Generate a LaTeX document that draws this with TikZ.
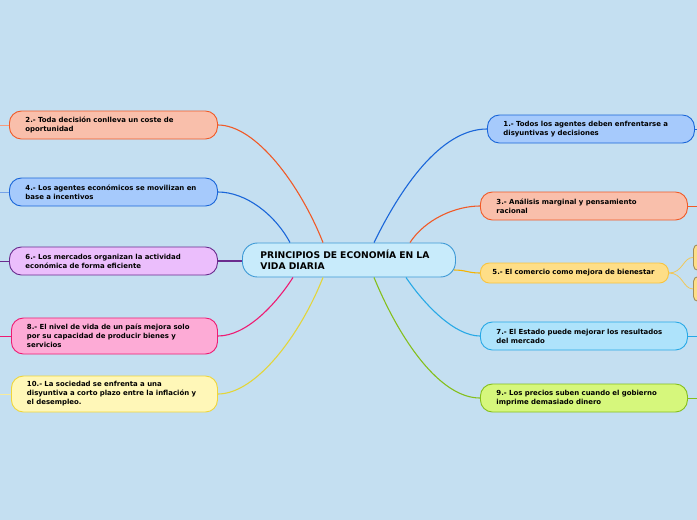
\documentclass[tikz,border=0pt]{standalone}
\usepackage{fontspec}
\setmainfont{DejaVu Sans}
\usetikzlibrary{calc}
\definecolor{bg}{HTML}{C4DFF1}
\definecolor{orB}{HTML}{F05A28}\definecolor{orF}{HTML}{F9BFAB}
\definecolor{blB}{HTML}{1A66D9}\definecolor{blF}{HTML}{A6CAFC}
\definecolor{puB}{HTML}{6A2C8E}\definecolor{puF}{HTML}{EBBEFC}
\definecolor{piB}{HTML}{EE1B73}\definecolor{piF}{HTML}{FDABD6}
\definecolor{yeB}{HTML}{EFD63A}\definecolor{yeF}{HTML}{FFF7B8}\definecolor{yeL}{HTML}{E3D539}
\definecolor{ceB}{HTML}{3E9AD6}\definecolor{ceF}{HTML}{C8EBFB}
\definecolor{goB}{HTML}{F8C440}\definecolor{goF}{HTML}{FEDE87}\definecolor{goL}{HTML}{F5B300}
\definecolor{cyB}{HTML}{28A9E6}\definecolor{cyF}{HTML}{AEE3FB}
\definecolor{grB}{HTML}{85BF1D}\definecolor{grF}{HTML}{D6F77C}
\definecolor{chB}{HTML}{A08C5C}\definecolor{chL}{HTML}{F0C75A}
\begin{document}
\begin{tikzpicture}[x=1pt,y=-1pt,
  topic/.style={draw, rounded corners=12pt, line width=0.9pt, minimum height=28pt,
    text width=176pt, inner xsep=16pt, inner ysep=0pt, align=left,
    font=\fontsize{6.95}{9}\selectfont\bfseries, anchor=west},
  central/.style={draw=ceB, fill=ceF, rounded corners=15pt, line width=0.9pt, minimum height=34pt,
    text width=177pt, inner xsep=18pt, inner ysep=0pt, align=left,
    font=\fontsize{9.2}{11}\selectfont\bfseries, anchor=west},
  link/.style={line width=1.1pt},
  stub/.style={line width=0.9pt},
  child/.style={draw=chB, fill=goF, rounded corners=5pt, line width=0.9pt, minimum width=30pt, anchor=north west}
]
\fill[bg] (0,0) rectangle (697,520);
\clip (0,0) rectangle (697,520);

\node[central] (ctr) at (242,260) {PRINCIPIOS DE ECONOMÍA EN LA\\VIDA DIARIA};

% left
\node[topic, draw=orB, fill=orF] (n2) at (9,125) {2.- Toda decisión conlleva un coste de\\oportunidad};
\node[topic, draw=blB, fill=blF] (n4) at (9,192) {4.- Los agentes económicos se movilizan en\\base a incentivos};
\node[topic, draw=puB, fill=puF] (n6) at (9,261) {6.- Los mercados organizan la actividad\\económica de forma eficiente};
\node[topic, draw=piB, fill=piF, minimum height=36pt, text width=175pt, inner xsep=15.5pt] (n8) at (11,336) {8.- El nivel de vida de un país mejora solo\\por su capacidad de producir bienes y\\servicios};
\node[topic, draw=yeB, fill=yeF, minimum height=36pt, text width=175pt, inner xsep=15.5pt] (n10) at (11,394) {10.- La sociedad se enfrenta a una\\disyuntiva a corto plazo entre la inflación y\\el desempleo.};

% right
\node[topic, draw=blB, fill=blF, text width=175pt] (n1) at (487,129) {1.- Todos los agentes deben enfrentarse a\\disyuntivas y decisiones};
\node[topic, draw=orB, fill=orF, text width=175pt] (n3) at (480,206) {3.- Análisis marginal y pensamiento\\racional};
\node[topic, draw=goB, fill=goF, minimum height=20pt, text width=164pt, inner xsep=12pt, rounded corners=9pt] (n5) at (480,273) {5.- El comercio como mejora de bienestar};
\node[topic, draw=cyB, fill=cyF, text width=175pt] (n7) at (480,336) {7.- El Estado puede mejorar los resultados\\del mercado};
\node[topic, draw=grB, fill=grF, text width=175pt] (n9) at (480,398) {9.- Los precios suben cuando el gobierno\\imprime demasiado dinero};

% children of 5
\node[child, minimum height=26pt] (k1) at (693,244) {};
\node[child, minimum height=25pt] (k2) at (693,276) {};

% central attachment points
\coordinate (a2) at ($(ctr.north west)+(81,0)$);
\coordinate (a4) at ($(ctr.north west)+(48,0)$);
\coordinate (a8) at ($(ctr.south west)+(51,0)$);
\coordinate (a10) at ($(ctr.south west)+(81,0)$);
\coordinate (a1) at ($(ctr.north west)+(132,0)$);
\coordinate (a3) at ($(ctr.north west)+(168,0)$);
\coordinate (a7) at ($(ctr.south west)+(164,0)$);
\coordinate (a9) at ($(ctr.south west)+(132,0)$);

\draw[link, orB] (a2) .. controls ($(a2)+(-23,-58)$) and ($(n2.east)+(38,0)$) .. (n2.east);
\draw[link, blB] (a4) .. controls ($(a4)+(-15,-28)$) and ($(n4.east)+(28,0)$) .. (n4.east);
\draw[link, puB] (ctr.west |- n6.east) -- (n6.east);
\draw[link, piB] (a8) .. controls ($(a8)+(-18,28)$) and ($(n8.east)+(28,0)$) .. (n8.east);
\draw[link, yeL] (a10) .. controls ($(a10)+(-23,58)$) and ($(n10.east)+(38,0)$) .. (n10.east);
\draw[link, blB] (a1) .. controls ($(a1)+(26,-53)$) and ($(n1.west)+(-47,0)$) .. (n1.west);
\draw[link, orB] (a3) .. controls ($(a3)+(15,-23)$) and ($(n3.west)+(-25,0)$) .. (n3.west);
\draw[link, goL] ($(ctr.east)+(-2,10)$) .. controls +(12,0) and +(-12,0) .. (n5.west);
\draw[link, cyB] (a7) .. controls ($(a7)+(19,28)$) and ($(n7.west)+(-25,0)$) .. (n7.west);
\draw[link, grB] (a9) .. controls ($(a9)+(26,63)$) and ($(n9.west)+(-40,0)$) .. (n9.west);

\draw[chL, line width=0.8pt] (n5.east) .. controls +(14,0) and +(-10,0) .. (k1.west);
\draw[chL, line width=0.8pt] (n5.east) .. controls +(14,0) and +(-10,0) .. (k2.west);

% stubs
\coordinate (L2) at (0,125);\coordinate (L4) at (0,192);\coordinate (L6) at (0,261);
\coordinate (L8) at (0,336);\coordinate (L10) at (0,394);
\draw[stub, orB!60] (n2.west) -- (L2);
\draw[stub, blB!60] (n4.west) -- (L4);
\draw[stub, puB] (n6.west) -- (L6);
\draw[stub, piB] (n8.west) -- (L8);
\draw[stub, yeB!50] (n10.west) -- (L10);
\coordinate (R1) at (697,129);\coordinate (R3) at (697,206);\coordinate (R7) at (697,336);\coordinate (R9) at (697,398);
\draw[stub, blB] (n1.east) -- (R1);
\draw[stub, orB] (n3.east) -- (R3);
\draw[stub, cyB] (n7.east) -- (R7);
\draw[stub, grB] (n9.east) -- (R9);
\end{tikzpicture}
\end{document}
